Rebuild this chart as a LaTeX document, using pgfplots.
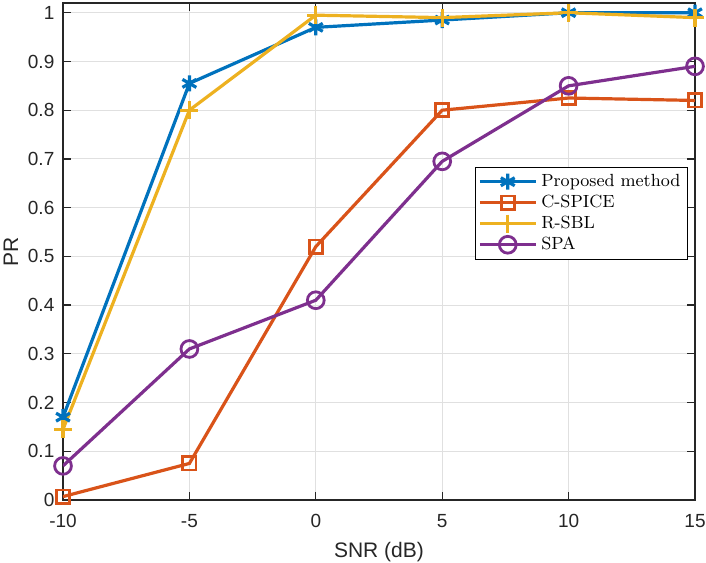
\documentclass[border=0pt]{standalone}
\usepackage{pgfplots}
\pgfplotsset{compat=1.18}
\usepackage{fontspec}
\newfontfamily\hel{Liberation Sans}
\definecolor{c1}{rgb}{0,0.447,0.741}
\definecolor{c2}{rgb}{0.85,0.325,0.098}
\definecolor{c3}{rgb}{0.929,0.694,0.125}
\definecolor{c4}{rgb}{0.494,0.184,0.556}
\definecolor{axc}{rgb}{0.15,0.15,0.15}
\begin{document}
\begin{tikzpicture}
\begin{axis}[
  name=ax,
  scale only axis,
  width=316pt, height=248.5pt,
  xmin=-10, xmax=15, ymin=0, ymax=1.02,
  xtick={-10,-5,...,15},
  ytick={0,0.1,...,1.0},
  yticklabels={0,0.1,0.2,0.3,0.4,0.5,0.6,0.7,0.8,0.9,1},
  grid=major,
  grid style={color=black!12, line width=0.5pt},
  axis line style={axc, line width=0.6pt},
  tick style={axc, line width=0.6pt},
  tick align=inside,
  major tick length=4pt,
  ticklabel style={font=\fontsize{9.5}{11}\hel, text=axc},
  xticklabel style={yshift=-3.5pt},
  yticklabel style={xshift=-0.8pt},
  /pgf/number format/assume math mode=true,
  xlabel={SNR (dB)}, ylabel={PR},
  label style={font=\fontsize{10.5}{12}\hel, text=axc},
  xlabel style={yshift=-0.5pt},
  ylabel style={yshift=-2pt},
  every axis plot/.append style={line width=1.6pt},
  legend style={at={(0.652,0.670)}, anchor=north west,
    font=\fontsize{8.8}{10}\selectfont, draw=black, line width=0.5pt,
    inner sep=1.3pt, row sep=-1.2pt},
  legend cell align=left,
  legend image code/.code={\draw[mark repeat=2,mark phase=2,line width=1.6pt] plot coordinates {(0pt,0pt)(14pt,0pt)(28pt,0pt)};},
]
\addplot[c1, mark=asterisk, mark size=4pt, mark options={line width=1.6pt}] coordinates {(-10,0.17)(-5,0.855)(0,0.97)(5,0.985)(10,1.0)(15,1.0)};
\addlegendentry{Proposed method}
\addplot[c2, mark=square, mark size=3.3pt, mark options={line width=1.4pt}] coordinates {(-10,0.007)(-5,0.075)(0,0.52)(5,0.80)(10,0.825)(15,0.82)};
\addlegendentry{C-SPICE}
\addplot[c3, mark=+, mark size=4.5pt, mark options={line width=1.6pt}] coordinates {(-10,0.145)(-5,0.80)(0,0.995)(5,0.99)(10,1.0)(15,0.99)};
\addlegendentry{R-SBL}
\addplot[c4, mark=o, mark size=4.2pt, mark options={line width=1.4pt}] coordinates {(-10,0.07)(-5,0.31)(0,0.41)(5,0.695)(10,0.85)(15,0.89)};
\addlegendentry{SPA}
\end{axis}
\pgfresetboundingbox
\path (ax.south west) ++(-31.5pt,-31pt) coordinate (bl);
\path (ax.north east) ++(5.5pt,1.5pt) coordinate (tr);
\useasboundingbox (bl) rectangle (tr);
\end{tikzpicture}
\end{document}
